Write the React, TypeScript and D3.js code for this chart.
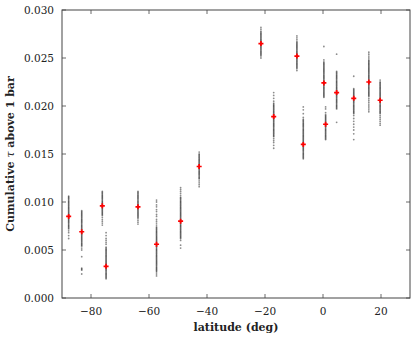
import React from 'react';
import * as d3 from 'd3';

// one column of samples per latitude, values in units of 1e-4
const latitudes = [-87.7, -83.2, -76.1, -74.8, -63.8, -57.4, -49.1, -42.7, -21.4, -17.0, -9.0, -6.8, 0.3, 0.9, 4.7, 10.6, 15.8, 19.7];
const medians = [85, 69, 96, 33, 95, 56, 80, 137, 265, 189, 252, 160, 224, 181, 214, 208, 225, 206];
const samples = [
  [106, 105, 104, 103, 102, 101, 100, 99, 98, 97, 96, 95, 94, 93, 92, 91, 90, 89, 88, 87, 86, 85, 85, 84, 83, 82, 81, 80, 79, 78, 77, 76, 75, 74, 73, 72, 70, 68, 65, 62],
  [91, 90, 89, 88, 87, 86, 85, 84, 83, 82, 81, 80, 79, 78, 77, 76, 75, 74, 73, 72, 71, 70, 69, 68, 67, 66, 65, 64, 63, 62, 61, 60, 59, 58, 57, 56, 55, 54, 52, 50, 43, 31, 30, 29, 25],
  [111, 110, 109, 108, 107, 106, 105, 104, 103, 102, 101, 100, 99, 98, 97, 96, 96, 95, 94, 93, 92, 91, 90, 89, 88, 87, 86, 84, 82, 80, 78, 76],
  [68, 65, 62, 60, 58, 56, 53, 52, 51, 50, 49, 48, 47, 46, 45, 44, 43, 42, 41, 40, 39, 38, 37, 36, 35, 34, 33, 33, 32, 31, 30, 29, 28, 27, 26, 25, 24, 23, 22, 21, 20],
  [111, 110, 109, 108, 107, 106, 105, 104, 103, 102, 101, 100, 99, 98, 97, 96, 95, 95, 94, 93, 92, 91, 90, 89, 88, 87, 86, 85, 84, 83, 81, 79, 77],
  [102, 100, 97, 95, 92, 90, 87, 85, 82, 80, 78, 76, 74, 73, 72, 71, 70, 69, 68, 67, 66, 65, 64, 63, 62, 61, 60, 59, 58, 57, 56, 55, 54, 53, 52, 51, 50, 49, 48, 47, 46, 45, 44, 43, 42, 41, 40, 39, 38, 37, 36, 35, 34, 33, 32, 31, 30, 29, 28, 27, 25, 23],
  [115, 113, 111, 109, 107, 105, 104, 103, 102, 101, 100, 99, 98, 97, 96, 95, 94, 93, 92, 91, 90, 89, 88, 87, 86, 85, 84, 83, 82, 81, 80, 79, 78, 77, 76, 75, 74, 73, 72, 71, 70, 69, 68, 67, 66, 65, 64, 63, 62, 60, 55, 52],
  [152, 150, 149, 148, 147, 146, 145, 144, 143, 142, 141, 140, 139, 138, 137, 137, 136, 135, 134, 133, 132, 131, 130, 129, 128, 127, 126, 125, 124, 122, 120, 118, 116],
  [282, 280, 278, 277, 276, 275, 274, 273, 272, 271, 270, 269, 268, 267, 266, 265, 265, 264, 263, 262, 261, 260, 259, 258, 257, 256, 255, 254, 253, 252, 250],
  [214, 211, 208, 205, 203, 202, 201, 200, 199, 198, 197, 196, 195, 194, 193, 192, 191, 190, 189, 189, 188, 187, 186, 185, 184, 183, 182, 181, 180, 179, 178, 177, 176, 175, 174, 173, 172, 171, 170, 169, 168, 166, 164, 162, 159, 156],
  [273, 271, 269, 267, 266, 265, 264, 263, 262, 261, 260, 259, 258, 257, 256, 255, 254, 253, 252, 252, 251, 250, 249, 248, 247, 246, 245, 244, 243, 242, 241, 240, 239, 237],
  [199, 196, 192, 188, 186, 185, 184, 183, 182, 181, 180, 179, 178, 177, 176, 175, 174, 173, 172, 171, 170, 169, 168, 167, 166, 165, 164, 163, 162, 161, 160, 160, 159, 158, 157, 156, 155, 154, 153, 152, 151, 150, 149, 148, 147, 146, 145],
  [262, 248, 246, 245, 244, 243, 242, 241, 240, 239, 238, 237, 236, 235, 234, 233, 232, 231, 230, 229, 228, 227, 226, 225, 224, 224, 223, 222, 221, 220, 219, 218, 217, 216, 215, 214, 213, 212, 211, 210, 209],
  [199, 197, 193, 191, 190, 189, 188, 187, 186, 185, 184, 183, 182, 181, 181, 180, 179, 178, 177, 176, 175, 174, 173, 172, 171, 170, 169, 168, 167, 166, 165],
  [254, 236, 235, 234, 233, 232, 231, 230, 229, 228, 227, 226, 225, 224, 223, 222, 221, 220, 219, 218, 217, 216, 215, 214, 214, 213, 212, 211, 210, 209, 208, 207, 206, 205, 204, 203, 202, 201, 200, 199, 198, 197, 183],
  [231, 218, 217, 216, 215, 214, 213, 212, 211, 210, 209, 208, 208, 207, 206, 205, 204, 203, 202, 201, 200, 199, 198, 197, 196, 195, 194, 193, 192, 190, 187, 184, 181, 178, 175, 171, 165],
  [256, 254, 252, 250, 248, 247, 246, 245, 244, 243, 242, 241, 240, 239, 238, 237, 236, 235, 234, 233, 232, 231, 230, 229, 228, 227, 226, 225, 225, 224, 223, 222, 221, 220, 219, 218, 217, 216, 215, 214, 213, 212, 211, 210, 208, 206, 204, 202, 200, 198, 196, 194],
  [227, 225, 224, 223, 222, 221, 220, 219, 218, 217, 216, 215, 214, 213, 212, 211, 210, 209, 208, 207, 206, 206, 205, 204, 203, 202, 201, 200, 199, 198, 197, 196, 195, 194, 193, 192, 190, 188, 186, 184, 182, 180],
];
const xTicks = [-80, -60, -40, -20, 0, 20];
const yTicks = [0, 0.005, 0.01, 0.015, 0.02, 0.025, 0.03];

const unit = 1e-4;
const W = 415;
const H = 339;
const margin = { top: 10, right: 5, bottom: 41, left: 62 };
const font = '"DejaVu Serif", serif';
const axisColor = '#444';

const App = () => {
  const x = d3.scaleLinear().domain([-90, 30]).range([margin.left, W - margin.right]);
  const y = d3.scaleLinear().domain([0, 0.03]).range([H - margin.bottom, margin.top]);
  const [x0, x1] = x.range();
  const [y0, y1] = y.range();
  const cross = d3.symbol(d3.symbolCross, 14)();
  const fmtY = d3.format('.3f');
  const fmtX = d3.format('d');
  const tick = 4;

  return (
    <svg width={W} height={H} style={{ position: 'absolute', left: 0, top: 0, background: '#fff' }}>
      {/* sample columns */}
      <g>
        {samples.map((col, i) =>
          col.map((v, j) => (
            <circle key={`${i}-${j}`} cx={x(latitudes[i])} cy={y(v * unit)} r={0.9} fill="#000" fillOpacity={0.45} />
          ))
        )}
      </g>

      {/* medians */}
      <g fill="#ff0000">
        {medians.map((m, i) => (
          <path key={i} d={cross!} transform={`translate(${x(latitudes[i])},${y(m * unit)})`} />
        ))}
      </g>

      {/* frame + inward ticks on every side */}
      <rect x={x0} y={y1} width={x1 - x0} height={y0 - y1} fill="none" stroke={axisColor} strokeWidth={1} />
      <g stroke={axisColor} strokeWidth={0.8}>
        {xTicks.map(t => (
          <g key={t}>
            <line x1={x(t)} x2={x(t)} y1={y0} y2={y0 - tick} />
            <line x1={x(t)} x2={x(t)} y1={y1} y2={y1 + tick} />
          </g>
        ))}
        {yTicks.map(t => (
          <g key={t}>
            <line x1={x0} x2={x0 + tick} y1={y(t)} y2={y(t)} />
            <line x1={x1} x2={x1 - tick} y1={y(t)} y2={y(t)} />
          </g>
        ))}
      </g>

      {/* tick labels */}
      <g fontFamily={font} fontSize={10.5} fill="#222">
        {xTicks.map(t => (
          <text key={t} x={x(t)} y={y0 + 17} textAnchor="middle">{fmtX(t)}</text>
        ))}
        {yTicks.map(t => (
          <text key={t} x={x0 - 8} y={y(t) + 4} textAnchor="end">{fmtY(t)}</text>
        ))}
      </g>

      {/* axis titles */}
      <text x={(x0 + x1) / 2} y={y0 + 33} textAnchor="middle" fontFamily={font} fontSize={11} fontWeight="bold" fill="#222">
        latitude (deg)
      </text>
      <text
        transform={`translate(14,${(y0 + y1) / 2}) rotate(-90)`}
        textAnchor="middle"
        fontFamily={font}
        fontSize={11}
        fontWeight="bold"
        fill="#222"
      >
        Cumulative <tspan fontStyle="italic" fontWeight="normal">τ</tspan> above 1 bar
      </text>
    </svg>
  );
};

export default App;
